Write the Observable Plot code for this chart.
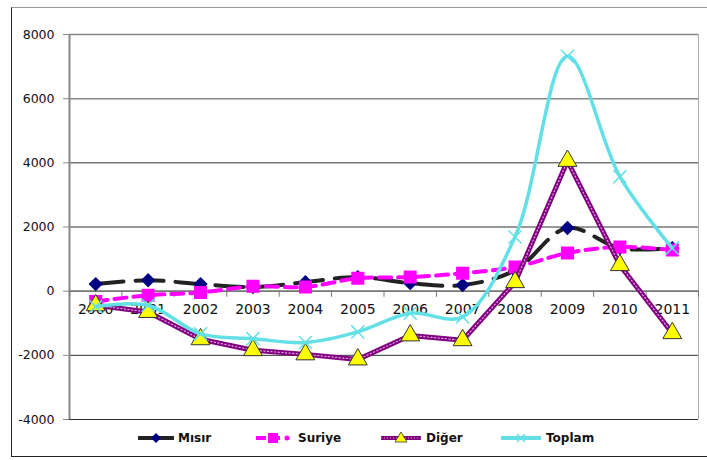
<!DOCTYPE html>
<html><head><meta charset="utf-8">
<script src="https://cdn.jsdelivr.net/npm/d3@7"></script>
<script src="https://cdn.jsdelivr.net/npm/@observablehq/plot@0.6"></script>
<style>
body{margin:0;background:#fff;font-family:"DejaVu Sans",sans-serif;}
#wrap{position:relative;width:707px;height:460px;overflow:hidden;}
#frame{position:absolute;left:11px;top:7px;width:700px;height:450px;border:1px solid #222;border-right:none;border-top-color:#999;box-sizing:border-box;}
#chart{position:absolute;left:0;top:0;}
#legend{position:absolute;left:0;top:428px;width:707px;height:22px;font-size:12px;font-weight:bold;color:#111;}
.item{position:absolute;top:0;display:flex;align-items:center;height:20px;}
.item svg{margin-right:4px;}
</style></head>
<body>
<div id="wrap"><div id="frame"></div><div id="chart"></div><div id="legend"></div></div>
<script>
const years = [2000,2001,2002,2003,2004,2005,2006,2007,2008,2009,2010,2011];
const misir = [220,340,220,130,280,440,250,190,650,1970,1340,1340];
const suriye = [-320,-130,-40,150,130,400,440,560,750,1190,1380,1280];
const diger = [-440,-650,-1500,-1840,-1970,-2130,-1380,-1530,280,4060,810,-1310];
const toplam = [-480,-440,-1330,-1480,-1600,-1270,-690,-800,1690,7320,3570,1340];
const yTicks = [-4000,-2000,0,2000,4000,6000,8000];
const seriesNames = ["Mısır","Suriye","Diğer","Toplam"];

const rows = (vals) => years.map((y,i) => ({year:y, value:vals[i]}));
const dM = rows(misir), dS = rows(suriye), dD = rows(diger), dT = rows(toplam);
const bounds = d3.range(years.length+1).map(i => years[0]-0.5+i);

const chart = Plot.plot({
  width:707, height:425,
  marginLeft:69, marginRight:9, marginTop:34, marginBottom:6,
  style:{fontFamily:"DejaVu Sans, sans-serif", background:"transparent"},
  x:{domain:[years[0]-0.5, years[years.length-1]+0.5], axis:null},
  y:{domain:[yTicks[0], yTicks[yTicks.length-1]], axis:null},
  marks:[
    Plot.ruleY(yTicks, {stroke:(d)=> d===8000||d===6000 ? "#888" : "#333", strokeWidth:(d)=> d===8000||d===6000 ? 1.5 : 1}),
    Plot.ruleX([bounds[0]], {stroke:"#888", strokeWidth:2}),
    Plot.ruleX([bounds[bounds.length-1]], {stroke:"#aaa", strokeWidth:1}),
    Plot.axisY({ticks:yTicks, tickSize:6, tickPadding:9, label:null, fontSize:12.5, stroke:"#888", color:"#111", tickFormat:d=>String(d)}),
    Plot.ruleY([0], {stroke:"#777", strokeWidth:1.5}),
    Plot.ruleX(bounds, {y1:0, y2:-190, stroke:"#777", strokeWidth:1}),
    Plot.text(years, {x:d=>d, y:0, text:d=>String(d), dy:18, fontSize:14, fill:"#111"}),
    // Mısır
    Plot.line(dM, {x:"year", y:"value", stroke:"#222", strokeWidth:4, strokeDasharray:"28,12", curve:"catmull-rom"}),
    Plot.dot(dM, {x:"year", y:"value", symbol:"diamond2", r:5.5, fill:"#000080", stroke:"#000080"}),
    // Suriye
    Plot.line(dS, {x:"year", y:"value", stroke:"#ff00ff", strokeWidth:4, strokeDasharray:"12,7", curve:"catmull-rom"}),
    Plot.dot(dS, {x:"year", y:"value", symbol:"square", r:6.5, fill:"#ff00ff", stroke:"#ff00ff"}),
    // Diğer
    Plot.line(dD, {x:"year", y:"value", stroke:"#800080", strokeWidth:5, curve:"linear"}),
    Plot.line(dD, {x:"year", y:"value", stroke:"#e0a0e0", strokeWidth:1.2, strokeDasharray:"1.2,2.4", curve:"linear"}),
    Plot.dot(dD, {x:"year", y:"value", symbol:"triangle", r:7, fill:"#ffff00", stroke:"#333", strokeWidth:1}),
    // Toplam
    Plot.line(dT, {x:"year", y:"value", stroke:"#62e0e6", strokeWidth:3.5, curve:"catmull-rom"}),
    Plot.dot(dT, {x:"year", y:"value", symbol:"times", r:6, stroke:"#62e0e6", strokeWidth:1.5})
  ]
});
document.getElementById("chart").appendChild(chart);

const legend = document.getElementById("legend");
const sw = [
  `<svg width="36" height="14"><line x1="1" y1="7" x2="35" y2="7" stroke="#222" stroke-width="4" stroke-linecap="round"/><path d="M18 2 L23 7 L18 12 L13 7 Z" fill="#000080"/></svg>`,
  `<svg width="40" height="14"><line x1="2" y1="7" x2="12" y2="7" stroke="#ff00ff" stroke-width="4"/><line x1="18" y1="7" x2="26" y2="7" stroke="#ff00ff" stroke-width="4"/><rect x="14" y="2" width="10" height="10" fill="#ff00ff"/><circle cx="33" cy="7" r="2.5" fill="#ff00ff"/></svg>`,
  `<svg width="42" height="14"><line x1="1" y1="7" x2="41" y2="7" stroke="#800080" stroke-width="4"/><line x1="1" y1="7" x2="41" y2="7" stroke="#e0a0e0" stroke-width="1" stroke-dasharray="1,2"/><path d="M21 1 L27 11 L15 11 Z" fill="#ffff00" stroke="#333" stroke-width="0.8"/></svg>`,
  `<svg width="42" height="14"><line x1="1" y1="7" x2="41" y2="7" stroke="#62e0e6" stroke-width="4"/><path d="M17 3 L25 11 M25 3 L17 11" stroke="#62e0e6" stroke-width="1.5"/></svg>`
];
const lefts = [138, 254, 380, 500];
seriesNames.forEach((n,i)=>{
  const d = document.createElement("div");
  d.className = "item";
  d.style.left = lefts[i]+"px";
  d.innerHTML = sw[i] + `<span>${n}</span>`;
  legend.appendChild(d);
});
</script>
</body></html>
